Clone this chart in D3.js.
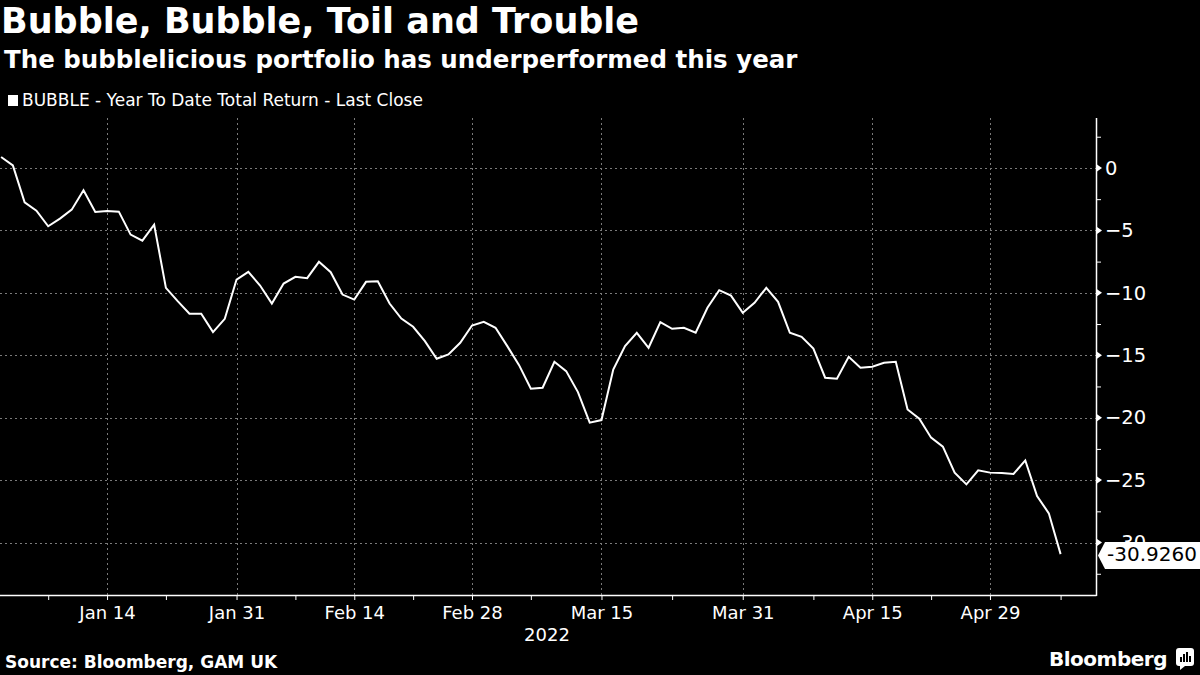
<!DOCTYPE html>
<html>
<head>
<meta charset="utf-8">
<script src="https://cdn.jsdelivr.net/npm/d3@7"></script>
<style>
  html, body { margin: 0; padding: 0; background: #000; }
  svg { display: block; }
  text { font-family: 'DejaVu Sans', sans-serif; fill: #fff; }
</style>
</head>
<body>
<div id="container"></div>
<script>
// chart data
const firstDay = '2022-01-03';
const lastDay = '2022-05-09';
const ytdReturn = [
  0.88, 0.21, -2.75, -3.42, -4.67, -4.06, -3.34, -1.79, -3.52, -3.44,
  -3.5, -5.34, -5.82, -4.54, -9.6, -10.67, -11.68, -11.68, -13.15, -12.08,
  -8.94, -8.32, -9.42, -10.86, -9.26, -8.72, -8.83, -7.52, -8.35, -10.14,
  -10.54, -9.12, -9.07, -10.86, -12.06, -12.72, -13.87, -15.28, -14.94, -14.0,
  -12.62, -12.32, -12.8, -14.27, -15.79, -17.68, -17.6, -15.52, -16.27, -17.95,
  -20.4, -20.19, -16.14, -14.27, -13.2, -14.4, -12.35, -12.88, -12.8, -13.2,
  -11.2, -9.79, -10.22, -11.6, -10.8, -9.6, -10.72, -13.2, -13.52, -14.46,
  -16.8, -16.88, -15.12, -16.0, -15.92, -15.6, -15.52, -19.34, -20.08, -21.6,
  -22.32, -24.4, -25.34, -24.22, -24.4, -24.43, -24.51, -23.42, -26.27, -27.66,
  -30.926
];
const lastValueLabel = '-30.9260';
const xTickDates = ['2022-01-14', '2022-01-31', '2022-02-14', '2022-02-28',
                    '2022-03-15', '2022-03-31', '2022-04-15', '2022-04-29'];
const xTickLabels = ['Jan 14', 'Jan 31', 'Feb 14', 'Feb 28', 'Mar 15', 'Mar 31', 'Apr 15', 'Apr 29'];
const xMinorDates = ['2022-01-07', '2022-01-21', '2022-02-07', '2022-02-21', '2022-03-07',
                     '2022-03-23', '2022-04-08', '2022-04-22', '2022-05-09'];
const yTicks = [0, -5, -10, -15, -20, -25, -30];
const yMinorTicks = [2.5, -2.5, -7.5, -12.5, -17.5, -22.5, -27.5, -32.5];

// trading days (weekdays) from first to last day
const fmt = d3.utcFormat('%Y-%m-%d');
const days = d3.utcDay.range(new Date(firstDay), d3.utcDay.offset(new Date(lastDay), 1))
  .filter(d => d.getUTCDay() !== 0 && d.getUTCDay() !== 6)
  .map(fmt);
const data = days.map((d, i) => ({ day: d, value: ytdReturn[i] }));

// svg dimensions
const w = 1200;
const h = 675;
const plotLeft = 0;
const plotRight = 1096;
const plotTop = 118;
const plotBottom = 595;

const svg = d3.select('#container')
  .append('svg')
  .attr('width', w)
  .attr('height', h);

svg.append('rect').attr('width', w).attr('height', h).attr('fill', '#000');

// scales
const xScale = d3.scalePoint()
  .domain(days)
  .range([1.1, 1060.6]);

const yScale = d3.scaleLinear()
  .domain([4, -34.2])
  .range([plotTop, plotBottom]);

// title block
svg.append('text')
  .attr('x', 1).attr('y', 33)
  .style('font-size', '35px').style('font-weight', 'bold')
  .text('Bubble, Bubble, Toil and Trouble');

svg.append('text')
  .attr('x', 4).attr('y', 68)
  .style('font-size', '24.5px').style('font-weight', 'bold')
  .text('The bubblelicious portfolio has underperformed this year');

svg.append('rect')
  .attr('x', 8).attr('y', 95).attr('width', 10).attr('height', 11)
  .attr('fill', '#fff');

svg.append('text')
  .attr('x', 22).attr('y', 106)
  .style('font-size', '17px')
  .text('BUBBLE - Year To Date Total Return - Last Close');

// gridlines
const grid = svg.append('g').attr('stroke', '#7a7a7a').attr('stroke-width', 1)
  .attr('stroke-dasharray', '2,3');

grid.selectAll('.hgrid')
  .data(yTicks)
  .join('line')
  .attr('x1', plotLeft).attr('x2', plotRight)
  .attr('y1', d => Math.round(yScale(d)) + 0.5)
  .attr('y2', d => Math.round(yScale(d)) + 0.5);

grid.selectAll('.vgrid')
  .data(xTickDates)
  .join('line')
  .attr('x1', d => Math.round(xScale(d)) + 0.5)
  .attr('x2', d => Math.round(xScale(d)) + 0.5)
  .attr('y1', plotTop).attr('y2', plotBottom);

// x axis
const xAxis = d3.axisBottom(xScale)
  .tickValues(xTickDates)
  .tickFormat((d, i) => xTickLabels[i])
  .tickSize(5)
  .tickPadding(6)
  .tickSizeOuter(0);

const gx = svg.append('g')
  .attr('transform', `translate(0, ${plotBottom})`)
  .call(xAxis);
gx.select('.domain').remove();
gx.selectAll('line').attr('stroke', '#fff');
gx.selectAll('text')
  .style('font-size', '18px')
  .style('font-family', "'DejaVu Sans', sans-serif")
  .attr('fill', '#fff');

const gxMinor = svg.append('g')
  .attr('transform', `translate(0, ${plotBottom})`)
  .call(d3.axisBottom(xScale).tickValues(xMinorDates).tickFormat('').tickSize(5).tickSizeOuter(0));
gxMinor.select('.domain').remove();
gxMinor.selectAll('line').attr('stroke', '#fff');

svg.append('text')
  .attr('x', 547).attr('y', 641)
  .attr('text-anchor', 'middle')
  .style('font-size', '18px')
  .text('2022');

// axis frame lines
svg.append('line')
  .attr('x1', plotLeft).attr('x2', plotRight + 0.5)
  .attr('y1', plotBottom + 0.5).attr('y2', plotBottom + 0.5)
  .attr('stroke', '#fff').attr('stroke-width', 1.5);

svg.append('line')
  .attr('x1', plotRight + 0.5).attr('x2', plotRight + 0.5)
  .attr('y1', plotTop).attr('y2', plotBottom + 1)
  .attr('stroke', '#fff').attr('stroke-width', 1.5);

// y axis, right side
const yAxis = d3.axisRight(yScale)
  .tickValues(yTicks)
  .tickFormat(d3.format('d'))
  .tickSize(0)
  .tickPadding(9);

const gy = svg.append('g')
  .attr('transform', `translate(${plotRight}, 0)`)
  .call(yAxis);
gy.select('.domain').remove();
gy.selectAll('text')
  .style('font-size', '19.5px')
  .style('font-family', "'DejaVu Sans', sans-serif")
  .attr('fill', '#fff');

// triangle markers on major ticks
svg.append('g').selectAll('path')
  .data(yTicks)
  .join('path')
  .attr('d', d => {
    const y = yScale(d);
    return `M${plotRight + 1},${y - 3.5} L${plotRight + 6},${y} L${plotRight + 1},${y + 3.5} Z`;
  })
  .attr('fill', '#fff');

// minor ticks
const gyMinor = svg.append('g')
  .attr('transform', `translate(${plotRight}, 0)`)
  .call(d3.axisRight(yScale).tickValues(yMinorTicks).tickFormat('').tickSize(5));
gyMinor.select('.domain').remove();
gyMinor.selectAll('line').attr('stroke', '#fff');

// the line
const line = d3.line()
  .x(d => xScale(d.day))
  .y(d => yScale(d.value));

svg.append('path')
  .datum(data)
  .attr('d', line)
  .attr('fill', 'none')
  .attr('stroke', '#fff')
  .attr('stroke-width', 2)
  .attr('stroke-linejoin', 'miter');

// last value tag
const lastY = yScale(ytdReturn[ytdReturn.length - 1]);
svg.append('path')
  .attr('d', `M${plotRight + 2},${lastY + 1.5} L${plotRight + 9},${lastY - 12} L${w},${lastY - 12} L${w},${lastY + 15} L${plotRight + 9},${lastY + 15} Z`)
  .attr('fill', '#fff');

svg.append('text')
  .attr('x', 1107).attr('y', lastY + 1.5)
  .attr('dominant-baseline', 'middle')
  .style('font-size', '20px')
  .style('fill', '#000')
  .text(lastValueLabel);

// footer
svg.append('text')
  .attr('x', 5).attr('y', 668)
  .style('font-size', '17px').style('font-weight', 'bold')
  .text('Source: Bloomberg, GAM UK');

svg.append('text')
  .attr('x', 1167).attr('y', 666)
  .attr('text-anchor', 'end')
  .style('font-size', '20px').style('font-weight', 'bold')
  .style('letter-spacing', '-0.5px')
  .text('Bloomberg');

// small logo mark
const logo = svg.append('g').attr('transform', 'translate(1176, 648)');
logo.append('rect').attr('width', 18).attr('height', 18).attr('rx', 3).attr('fill', '#fff');
logo.append('path').attr('d', 'M4,18 L4,22 L9,18 Z').attr('fill', '#fff');
logo.selectAll('.bar')
  .data([[4, 9], [7, 6], [10, 4], [13, 8]])
  .join('rect')
  .attr('x', d => d[0]).attr('y', d => d[1])
  .attr('width', 2).attr('height', d => 14 - d[1])
  .attr('fill', '#000');
</script>
</body>
</html>
